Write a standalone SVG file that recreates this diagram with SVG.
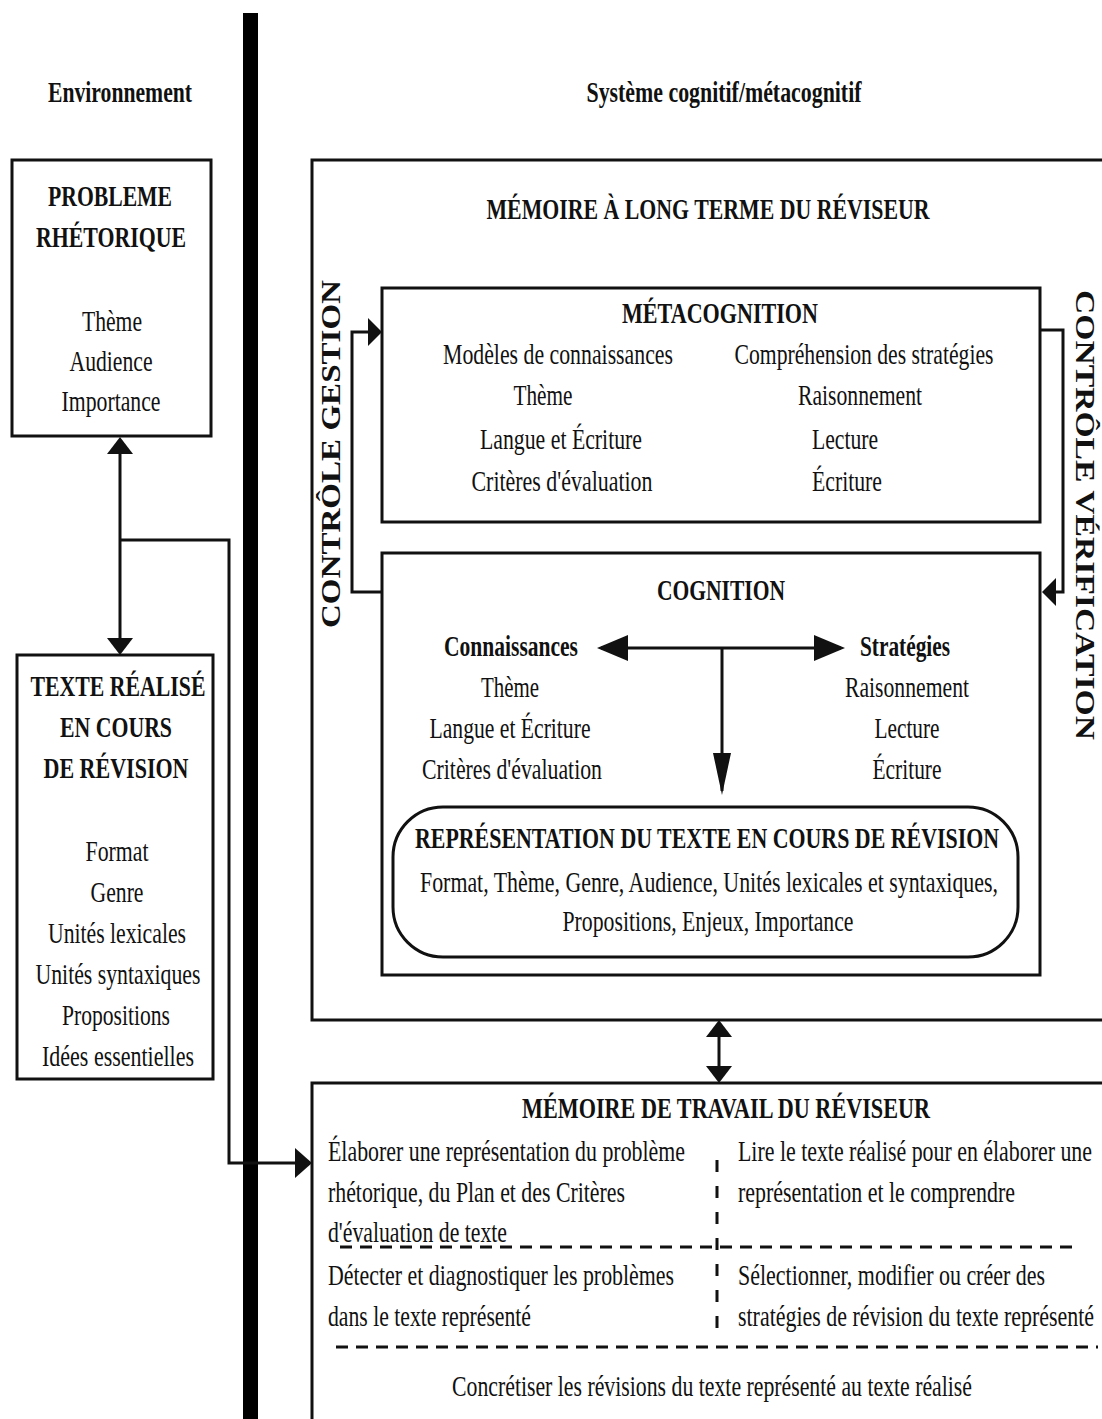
<svg xmlns="http://www.w3.org/2000/svg" width="1102" height="1419" viewBox="0 0 1102 1419">
<style>
  text { font-family: "Liberation Serif", "Times New Roman", serif; font-size: 30px; fill: #111; }
  .b { font-weight: bold; }
  .c { text-anchor: middle; }
  .v { font-size: 28px; font-weight: bold; text-anchor: middle; }
  .box { fill: #fff; stroke: #111; stroke-width: 3; }
  .con { fill: none; stroke: #111; stroke-width: 3; }
  .dash { fill: none; stroke: #111; stroke-width: 3; stroke-dasharray: 12 8; }
  .vdash { fill: none; stroke: #111; stroke-width: 3; stroke-dasharray: 12 14; }
  .head { fill: #111; }
</style>
<defs>
  <marker id="m1" markerUnits="userSpaceOnUse" viewBox="0 0 17 26" markerWidth="17" markerHeight="26" refX="13" refY="13" orient="auto-start-reverse"><path class="head" d="M0,0 L17,13 L0,26 z"/></marker>
  <marker id="m1w" markerUnits="userSpaceOnUse" viewBox="0 0 17 30" markerWidth="17" markerHeight="30" refX="13" refY="15" orient="auto-start-reverse"><path class="head" d="M0,0 L17,15 L0,30 z"/></marker>
  <marker id="m2" markerUnits="userSpaceOnUse" viewBox="0 0 31 26" markerWidth="31" markerHeight="26" refX="27" refY="13" orient="auto-start-reverse"><path class="head" d="M0,0 L31,13 L0,26 z"/></marker>
  <marker id="m3" markerUnits="userSpaceOnUse" viewBox="0 0 42 18" markerWidth="42" markerHeight="18" refX="38" refY="9" orient="auto-start-reverse"><path class="head" d="M0,0 L42,9 L0,18 z"/></marker>
  <marker id="m4" markerUnits="userSpaceOnUse" viewBox="0 0 14 28" markerWidth="14" markerHeight="28" refX="10" refY="14" orient="auto-start-reverse"><path class="head" d="M0,0 L14,14 L0,28 z"/></marker>
</defs>
<rect width="1102" height="1419" fill="#fff"/>

<g id="headers">
  <text class="b c" x="120" y="102" textLength="144" lengthAdjust="spacingAndGlyphs">Environnement</text>
  <text class="b c" x="724" y="102" textLength="275" lengthAdjust="spacingAndGlyphs">Système cognitif/métacognitif</text>
</g>

<g id="divider">
  <rect x="243" y="13" width="15" height="1406" fill="#000"/>
</g>

<g id="probleme-rhetorique">
  <rect class="box" x="12" y="160" width="199" height="276"/>
  <text class="b c" x="110" y="206" textLength="124" lengthAdjust="spacingAndGlyphs">PROBLEME</text>
  <text class="b c" x="111" y="247" textLength="150" lengthAdjust="spacingAndGlyphs">RHÉTORIQUE</text>
  <text class="c" x="112" y="331" textLength="60" lengthAdjust="spacingAndGlyphs">Thème</text>
  <text class="c" x="111" y="371" textLength="83" lengthAdjust="spacingAndGlyphs">Audience</text>
  <text class="c" x="111" y="411" textLength="99" lengthAdjust="spacingAndGlyphs">Importance</text>
</g>

<g id="texte-realise">
  <rect class="box" x="17" y="655" width="196" height="424"/>
  <text class="b c" x="118" y="696" textLength="175" lengthAdjust="spacingAndGlyphs">TEXTE RÉALISÉ</text>
  <text class="b c" x="116" y="737" textLength="112" lengthAdjust="spacingAndGlyphs">EN COURS</text>
  <text class="b c" x="116" y="778" textLength="145" lengthAdjust="spacingAndGlyphs">DE RÉVISION</text>
  <text class="c" x="117" y="861" textLength="63" lengthAdjust="spacingAndGlyphs">Format</text>
  <text class="c" x="117" y="902" textLength="53" lengthAdjust="spacingAndGlyphs">Genre</text>
  <text class="c" x="117" y="943" textLength="138" lengthAdjust="spacingAndGlyphs">Unités lexicales</text>
  <text class="c" x="118" y="984" textLength="165" lengthAdjust="spacingAndGlyphs">Unités syntaxiques</text>
  <text class="c" x="116" y="1025" textLength="108" lengthAdjust="spacingAndGlyphs">Propositions</text>
  <text class="c" x="118" y="1066" textLength="152" lengthAdjust="spacingAndGlyphs">Idées essentielles</text>
</g>

<g id="memoire-long-terme">
  <rect class="box" x="312" y="160" width="800" height="860"/>
  <text class="b c" x="708" y="219" textLength="443" lengthAdjust="spacingAndGlyphs">MÉMOIRE À LONG TERME DU RÉVISEUR</text>
  <text class="v" transform="translate(340,454) rotate(-90)" x="0" y="0" textLength="348" lengthAdjust="spacingAndGlyphs">CONTRÔLE GESTION</text>
  <text class="v" transform="translate(1076,515) rotate(90)" x="0" y="0" textLength="450" lengthAdjust="spacingAndGlyphs">CONTRÔLE VÉRIFICATION</text>
</g>

<g id="metacognition">
  <rect class="box" x="382" y="288" width="658" height="234"/>
  <text class="b c" x="720" y="323" textLength="196" lengthAdjust="spacingAndGlyphs">MÉTACOGNITION</text>
  <text class="c" x="558" y="364" textLength="230" lengthAdjust="spacingAndGlyphs">Modèles de connaissances</text>
  <text class="c" x="543" y="405" textLength="59" lengthAdjust="spacingAndGlyphs">Thème</text>
  <text class="c" x="561" y="449" textLength="162" lengthAdjust="spacingAndGlyphs">Langue et Écriture</text>
  <text class="c" x="562" y="491" textLength="181" lengthAdjust="spacingAndGlyphs">Critères d'évaluation</text>
  <text class="c" x="864" y="364" textLength="259" lengthAdjust="spacingAndGlyphs">Compréhension des stratégies</text>
  <text class="c" x="860" y="405" textLength="124" lengthAdjust="spacingAndGlyphs">Raisonnement</text>
  <text class="c" x="845" y="449" textLength="66" lengthAdjust="spacingAndGlyphs">Lecture</text>
  <text class="c" x="847" y="491" textLength="70" lengthAdjust="spacingAndGlyphs">Écriture</text>
</g>

<g id="cognition">
  <rect class="box" x="382" y="553" width="658" height="422"/>
  <text class="b c" x="721" y="600" textLength="128" lengthAdjust="spacingAndGlyphs">COGNITION</text>
  <text class="b c" x="511" y="656" textLength="134" lengthAdjust="spacingAndGlyphs">Connaissances</text>
  <text class="c" x="510" y="697" textLength="58" lengthAdjust="spacingAndGlyphs">Thème</text>
  <text class="c" x="510" y="738" textLength="161" lengthAdjust="spacingAndGlyphs">Langue et Écriture</text>
  <text class="c" x="512" y="779" textLength="180" lengthAdjust="spacingAndGlyphs">Critères d'évaluation</text>
  <text class="b c" x="905" y="656" textLength="90" lengthAdjust="spacingAndGlyphs">Stratégies</text>
  <text class="c" x="907" y="697" textLength="124" lengthAdjust="spacingAndGlyphs">Raisonnement</text>
  <text class="c" x="907" y="738" textLength="65" lengthAdjust="spacingAndGlyphs">Lecture</text>
  <text class="c" x="907" y="779" textLength="69" lengthAdjust="spacingAndGlyphs">Écriture</text>
</g>

<g id="representation">
  <rect class="box" x="393" y="807" width="625" height="150" rx="50" ry="50"/>
  <text class="b c" x="707" y="848" textLength="584" lengthAdjust="spacingAndGlyphs">REPRÉSENTATION DU TEXTE EN COURS DE RÉVISION</text>
  <text class="c" x="709" y="892" textLength="578" lengthAdjust="spacingAndGlyphs">Format, Thème, Genre, Audience, Unités lexicales et syntaxiques,</text>
  <text class="c" x="708" y="931" textLength="291" lengthAdjust="spacingAndGlyphs">Propositions, Enjeux, Importance</text>
</g>

<g id="memoire-travail">
  <rect class="box" x="312" y="1083" width="800" height="400"/>
  <text class="b c" x="726" y="1118" textLength="408" lengthAdjust="spacingAndGlyphs">MÉMOIRE DE TRAVAIL DU RÉVISEUR</text>
  <text x="328" y="1161" textLength="357" lengthAdjust="spacingAndGlyphs">Élaborer une représentation du problème</text>
  <text x="328" y="1202" textLength="297" lengthAdjust="spacingAndGlyphs">rhétorique, du Plan et des Critères</text>
  <text x="328" y="1242" textLength="179" lengthAdjust="spacingAndGlyphs">d'évaluation de texte</text>
  <text x="738" y="1161" textLength="354" lengthAdjust="spacingAndGlyphs">Lire le texte réalisé pour en élaborer une</text>
  <text x="738" y="1202" textLength="277" lengthAdjust="spacingAndGlyphs">représentation et le comprendre</text>
  <text x="328" y="1285" textLength="346" lengthAdjust="spacingAndGlyphs">Détecter et diagnostiquer les problèmes</text>
  <text x="328" y="1326" textLength="203" lengthAdjust="spacingAndGlyphs">dans le texte représenté</text>
  <text x="738" y="1285" textLength="307" lengthAdjust="spacingAndGlyphs">Sélectionner, modifier ou créer des</text>
  <text x="738" y="1326" textLength="356" lengthAdjust="spacingAndGlyphs">stratégies de révision du texte représenté</text>
  <text class="c" x="712" y="1396" textLength="520" lengthAdjust="spacingAndGlyphs">Concrétiser les révisions du texte représenté au texte réalisé</text>
  <path class="dash" d="M340,1247 H1078"/>
  <path class="dash" d="M336,1347 H1098"/>
  <path class="vdash" d="M717,1160 V1336"/>
</g>

<g id="connectors">
  <path class="con" d="M120,441 V651" marker-start="url(#m1)" marker-end="url(#m1)"/>
  <path class="con" d="M120,540 H229 V1163 H308" marker-end="url(#m1w)"/>
  <path class="con" d="M382,592 H352 V332 H378" marker-end="url(#m4)"/>
  <path class="con" d="M1040,330 H1063 V592 H1046" marker-end="url(#m4)"/>
  <path class="con" d="M601,648 H841" marker-start="url(#m2)" marker-end="url(#m2)"/>
  <path class="con" d="M722,648 V791" marker-end="url(#m3)"/>
  <path class="con" d="M719,1024 V1079" marker-start="url(#m1)" marker-end="url(#m1)"/>
</g>
</svg>
